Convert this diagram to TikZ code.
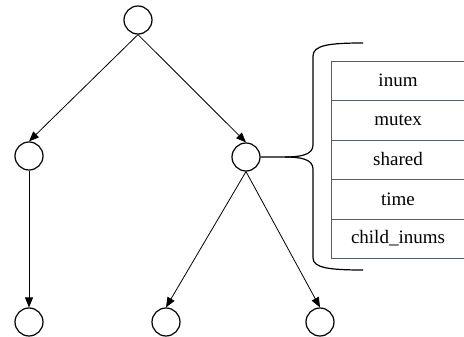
\documentclass[tikz,border=0pt]{standalone}
\usepackage{fontspec}
\setmainfont{Liberation Serif}
\usetikzlibrary{arrows.meta}
\definecolor{tabline}{RGB}{85,95,105}
\begin{document}
\begin{tikzpicture}[x=1pt,y=-1pt,
  treenode/.style={circle,draw,line width=1.2pt,minimum size=28pt,inner sep=0pt},
  edge/.style={line width=0.8pt,-{Triangle[length=10pt,width=8pt]}},
  cell/.style={draw=tabline,line width=0.9pt,minimum width=140pt,minimum height=39.4pt,inner sep=0pt,anchor=north west,font=\fontsize{19}{22}\selectfont},
  cellt/.style={font=\fontsize{19}{22}\selectfont}]
\useasboundingbox (0,0) rectangle (464,337);
\clip (0,0) rectangle (464,337);
\node[treenode] (root) at (138,20) {};
\node[treenode] (l) at (29,156) {};
\node[treenode] (r) at (246,157) {};
\node[treenode] (ll) at (29,322) {};
\node[treenode] (rl) at (166,322) {};
\node[treenode] (rr) at (320,322) {};
\draw[edge] (root.south) -- (l.north);
\draw[edge] (root.south) -- (r.north);
\draw[edge] (l.south) -- (ll.north);
\draw[edge] (r.south) -- (rl.north);
\draw[edge] (r.south) -- (rr.north);
% table
\node[cell] (c1) at (331,61) {};
\node[cell] (c2) at (331,100.4) {};
\node[cell] (c3) at (331,139.8) {};
\node[cell] (c4) at (331,179.2) {};
\node[cell] (c5) at (331,218.6) {};
\node[cellt] (t1) at (398,80.7) {inum};
\node[cellt] (t2) at (398,120.1) {mutex};
\node[cellt] (t3) at (398,159.5) {shared};
\node[cellt] (t4) at (398,198.9) {time};
\node[cellt] (t5) at (398,238.3) {child\_inums};
% brace
\coordinate (bt) at (363,43);
\coordinate (bb) at (363,270);
\draw[line width=1.2pt] (bt) .. controls (330,43) and (313,45) .. (313,56)
  -- (313,145) .. controls (313,155) and (300,157) .. (285,157) -- (r.east);
\draw[line width=1.2pt] (bb) .. controls (330,270) and (313,268) .. (313,258)
  -- (313,169) .. controls (313,159) and (300,157) .. (285,157);
\end{tikzpicture}
\end{document}
